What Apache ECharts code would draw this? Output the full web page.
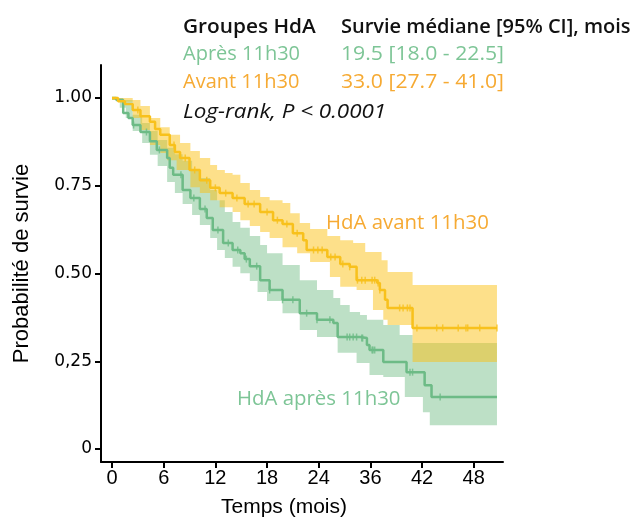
<!DOCTYPE html>
<html>
<head>
<meta charset="utf-8">
<script src="https://cdn.jsdelivr.net/npm/echarts@6/dist/echarts.min.js"></script>
<style>
  html, body { margin: 0; padding: 0; background: #fff; }
  #chart { width: 635px; height: 518px; }
</style>
</head>
<body>
<div id="chart"></div>
<script>
// axe des x : positions régulières, libellés tels qu'affichés
var xTickValues = [0, 6, 12, 18, 24, 30, 36, 42];
var xTickLabels = ['0', '6', '12', '18', '24', '36', '42', '48'];
var yTickValues = [0, 0.25, 0.5, 0.75, 1];
var yTickLabels = ['0', '0,25', '0.50', '0.75', '1.00'];

// Kaplan-Meier, HdA avant 11h30 : [temps, survie]
var avantKM = [[0, 1.0], [0.7, 0.991], [1.5, 0.983], [2.4, 0.966], [3.3, 0.948], [4.4, 0.932], [5.0, 0.912],
  [5.6, 0.895], [6.7, 0.866], [7.3, 0.846], [7.9, 0.829], [9.0, 0.795], [10.2, 0.766], [11.4, 0.744],
  [12.5, 0.729], [14.0, 0.715], [15.4, 0.698], [17.2, 0.675], [18.7, 0.652], [19.8, 0.641], [21.0, 0.615],
  [22.2, 0.595], [22.6, 0.567], [25.0, 0.547], [26.5, 0.527], [27.6, 0.519], [28.4, 0.481], [30.8, 0.473],
  [31.1, 0.453], [31.7, 0.425], [32.0, 0.402], [34.9, 0.345], [44.7, 0.345]];
var avantHaut = [[0, 1.0], [2.4, 0.994], [3.3, 0.977], [4.4, 0.943], [5.6, 0.917], [6.7, 0.895], [7.9, 0.872],
  [9.1, 0.849], [10.2, 0.829], [11.4, 0.809], [12.2, 0.795], [13.1, 0.786], [14.0, 0.781], [14.9, 0.758],
  [16.0, 0.738], [17.2, 0.718], [18.3, 0.709], [19.8, 0.701], [20.7, 0.672], [21.8, 0.644], [23.0, 0.627],
  [25.0, 0.607], [26.5, 0.595], [28.0, 0.587], [29.4, 0.561], [31.3, 0.538], [32.0, 0.504], [34.9, 0.467],
  [44.7, 0.467]];
var avantBas = [[0, 0.994], [0.9, 0.989], [2.4, 0.943], [3.3, 0.909], [4.4, 0.866], [5.6, 0.843], [6.4, 0.823],
  [7.5, 0.795], [9.1, 0.746], [10.2, 0.729], [11.4, 0.709], [12.5, 0.689], [14.0, 0.675], [14.9, 0.652],
  [16.0, 0.635], [17.2, 0.618], [18.3, 0.601], [19.8, 0.575], [21.5, 0.558], [23.0, 0.533], [25.3, 0.490],
  [26.5, 0.462], [28.4, 0.453], [30.3, 0.396], [31.5, 0.368], [32.0, 0.353], [34.9, 0.248], [44.7, 0.248]];
var avantCensures = [3.0, 7.2, 8.5, 9.6, 11.0, 12.0, 13.2, 14.5, 15.8, 16.5, 18.0, 19.2, 20.3, 21.5, 23.4,
  23.9, 24.4, 25.4, 25.9, 26.8, 27.6, 28.5, 29.0, 29.4, 30.2, 30.5, 30.9, 31.1, 33.4, 33.8, 34.3, 34.6,
  35.4, 37.7, 38.4, 40.2, 41.1, 41.3, 42.7, 44.7];

// Kaplan-Meier, HdA après 11h30
var apresKM = [[0, 1.0], [0.5, 0.994], [1.3, 0.957], [1.9, 0.943], [2.4, 0.923], [3.3, 0.903], [4.4, 0.877],
  [5.2, 0.852], [6.4, 0.829], [6.7, 0.801], [7.1, 0.781], [8.2, 0.738], [9.1, 0.715], [10.2, 0.684],
  [11.0, 0.658], [11.7, 0.624], [12.9, 0.587], [14.0, 0.567], [14.9, 0.558], [15.4, 0.541], [16.0, 0.521],
  [17.2, 0.481], [18.3, 0.453], [19.8, 0.425], [21.8, 0.387], [23.8, 0.368], [25.7, 0.359], [26.2, 0.319],
  [28.8, 0.316], [29.6, 0.296], [29.9, 0.282], [31.5, 0.248], [34.2, 0.219], [36.3, 0.182], [37.1, 0.148],
  [44.7, 0.148]];
var apresHaut = [[0, 1.0], [1.3, 0.994], [2.4, 0.952], [3.5, 0.929], [4.4, 0.906], [5.3, 0.880], [6.4, 0.858],
  [7.3, 0.840], [8.2, 0.821], [9.3, 0.795], [10.2, 0.772], [11.4, 0.738], [12.2, 0.709], [13.1, 0.675],
  [14.0, 0.647], [14.9, 0.630], [16.0, 0.607], [17.2, 0.581], [18.0, 0.558], [19.8, 0.524], [21.8, 0.481],
  [23.8, 0.453], [25.7, 0.430], [26.5, 0.410], [27.6, 0.390], [28.8, 0.382], [29.6, 0.368], [31.5, 0.353],
  [33.4, 0.325], [34.9, 0.302], [44.7, 0.302]];
var apresBas = [[0, 0.994], [0.9, 0.972], [1.6, 0.943], [2.4, 0.906], [3.5, 0.872], [4.4, 0.838], [5.3, 0.806],
  [6.4, 0.761], [7.3, 0.729], [8.2, 0.698], [9.3, 0.667], [10.2, 0.638], [11.4, 0.601], [12.2, 0.567],
  [13.1, 0.544], [14.0, 0.519], [14.9, 0.501], [16.0, 0.479], [16.9, 0.447], [18.0, 0.422], [19.8, 0.387],
  [21.8, 0.339], [23.8, 0.319], [26.2, 0.274], [28.4, 0.245], [29.9, 0.211], [31.5, 0.205], [34.0, 0.148],
  [36.1, 0.105], [36.9, 0.068], [44.7, 0.068]];
var apresCensures = [2.5, 4.0, 5.5, 8.0, 9.5, 10.8, 12.3, 13.5, 14.6, 15.6, 16.8, 18.3, 19.8, 21.0, 22.6,
  23.8, 25.3, 27.3, 27.6, 28.0, 28.4, 29.0, 29.1, 30.2, 30.3, 30.5, 34.6, 34.9, 38.1];

var entete = ['Groupes HdA', 'Survie médiane [95% CI], mois'];
var ligneApres = ['Après 11h30', '19.5 [18.0 - 22.5]'];
var ligneAvant = ['Avant 11h30', '33.0 [27.7 - 41.0]'];
var logRank = 'Log-rank, P < 0.0001';

var vert = '#6dbb86';
var jaune = '#f8c11c';
var texteVert = '#7dc596';
var texteOrange = '#f6aa33';
var police = '"Open Sans", Lato, sans-serif';

function valeurA(courbe, t) {
  var v = courbe[0][1];
  for (var i = 0; i < courbe.length; i++) {
    if (courbe[i][0] <= t) v = courbe[i][1];
  }
  return v;
}

function enEscalier(courbe) {
  var pts = [];
  for (var i = 0; i < courbe.length; i++) {
    if (i > 0) pts.push([courbe[i][0], courbe[i - 1][1]]);
    pts.push(courbe[i]);
  }
  return pts;
}

function bande(haut, bas, couleur) {
  return {
    type: 'custom',
    silent: true,
    clip: true,
    z: 1,
    data: [[0, 0]],
    renderItem: function (params, api) {
      var pts = enEscalier(haut).concat(enEscalier(bas).reverse()).map(function (p) {
        return api.coord(p);
      });
      return { type: 'polygon', shape: { points: pts }, style: { fill: couleur } };
    }
  };
}

function courbe(data, couleur) {
  return {
    type: 'line',
    step: 'end',
    data: data,
    symbol: 'none',
    z: 3,
    lineStyle: { color: couleur, width: 2.5 }
  };
}

function censures(temps, km, couleur) {
  return {
    type: 'scatter',
    z: 4,
    symbol: 'rect',
    symbolSize: [1.5, 7],
    itemStyle: { color: couleur },
    data: temps.map(function (t) { return [t, valeurA(km, t)]; })
  };
}

function texte(x, y, s, couleur, extra, sx) {
  var st = {
    text: s, fill: couleur, fontSize: 20, fontFamily: police,
    fontWeight: 'normal', fontStyle: 'normal', verticalAlign: 'middle'
  };
  if (extra) for (var k in extra) st[k] = extra[k];
  return { type: 'text', x: x, y: y, scaleX: sx || 1, style: st };
}

var chart = echarts.init(document.getElementById('chart'));
var option = {
  animation: false,
  grid: { left: 101, right: 132, top: 65, bottom: 56, outerBoundsMode: 'none' },
  xAxis: {
    type: 'value',
    min: -1.28,
    max: 45.4,
    name: 'Temps (mois)',
    nameLocation: 'middle',
    nameGap: 35,
    nameTextStyle: { color: '#000', fontSize: 21, fontFamily: 'Liberation Sans', padding: [0, 36, 0, 0] },
    axisLine: { onZero: false, lineStyle: { color: '#000', width: 2 } },
    axisTick: { customValues: xTickValues, length: 6, lineStyle: { color: '#000', width: 2 } },
    axisLabel: {
      customValues: xTickValues,
      margin: 6,
      color: '#000',
      fontSize: 20,
      fontFamily: 'Liberation Sans',
      formatter: function (v) { return xTickLabels[xTickValues.indexOf(v)]; }
    },
    splitLine: { show: false }
  },
  yAxis: {
    type: 'value',
    min: -0.037,
    max: 1.094,
    name: 'Probabilité de survie',
    nameLocation: 'middle',
    nameGap: 68,
    nameTextStyle: { color: '#000', fontSize: 22, fontFamily: 'Liberation Sans' },
    axisLine: { show: true, onZero: false, lineStyle: { color: '#000', width: 2 } },
    axisTick: { show: true, customValues: yTickValues, length: 6, lineStyle: { color: '#000', width: 2 } },
    axisLabel: {
      customValues: yTickValues,
      margin: 9,
      color: '#000',
      fontSize: 17,
      fontFamily: 'DejaVu Sans',
      formatter: function (v) { return yTickLabels[yTickValues.indexOf(v)]; }
    },
    splitLine: { show: false }
  },
  series: [
    bande(apresHaut, apresBas, 'rgba(123,193,141,0.5)'),
    bande(avantHaut, avantBas, 'rgba(251,193,21,0.5)'),
    courbe(apresKM, vert),
    courbe(avantKM, jaune),
    censures(apresCensures, apresKM, vert),
    censures(avantCensures, avantKM, jaune)
  ],
  graphic: [
    texte(183, 27, entete[0], '#111', { fontWeight: 600 }, 1.04),
    texte(341, 27, entete[1], '#111', { fontWeight: 600 }),
    texte(183, 54, ligneApres[0], texteVert),
    texte(341, 54, ligneApres[1], texteVert, null, 1.06),
    texte(183, 82, ligneAvant[0], texteOrange),
    texte(341, 82, ligneAvant[1], texteOrange, null, 1.06),
    texte(183, 112, logRank, '#111', { fontStyle: 'italic' }, 1.12),
    texte(326, 223, 'HdA avant 11h30', texteOrange, null, 1.02),
    texte(237, 399, 'HdA après 11h30', texteVert, null, 1.02)
  ]
};
chart.setOption(option);
</script>
</body>
</html>
